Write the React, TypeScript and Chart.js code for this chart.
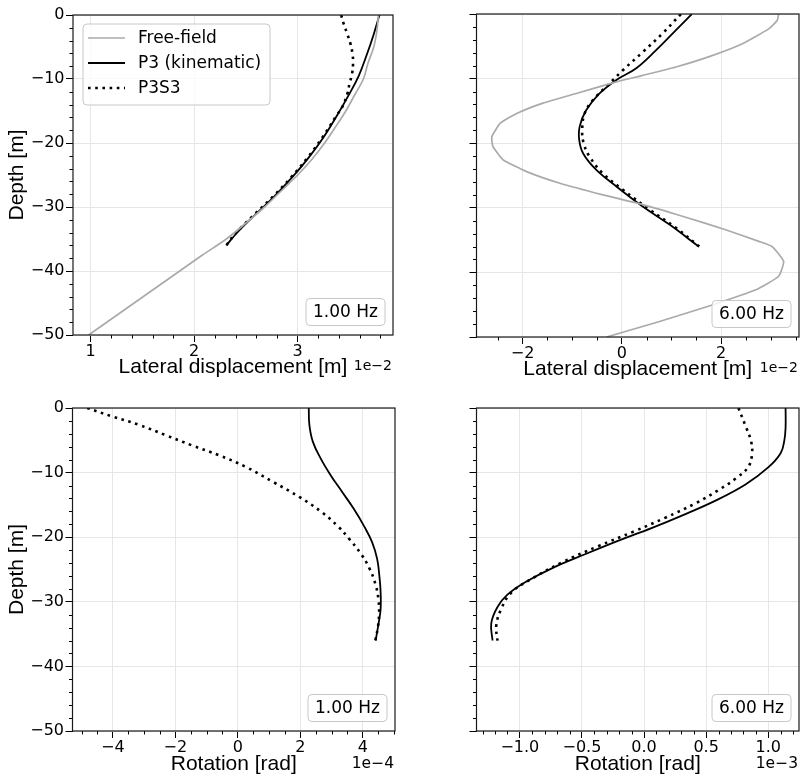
import React, { useEffect, useRef } from 'react';
import { Chart, registerables } from 'chart.js';

Chart.register(...registerables);

// ---------------- data ----------------
const DEPTH_TICKS = [-50, -40, -30, -20, -10, 0];

// 1.00 Hz - lateral displacement (x 1e-2 m)
const ffDisp1Depth = [0, -2.5, -5, -7.5, -10, -12.5, -15, -17.5, -20, -22.5, -25, -27.5, -30, -32.5, -35, -37.5, -40, -42.5, -45, -47.5, -50];
const ffDisp1 = [3.78, 3.765, 3.735, 3.68, 3.635, 3.55, 3.465, 3.365, 3.26, 3.14, 3.0, 2.84, 2.68, 2.5, 2.31, 2.08, 1.86, 1.64, 1.42, 1.2, 0.98];
const p3Disp1Depth = [0, -3, -6.1, -9.5, -12.6, -15.7, -19.1, -22.2, -25.3, -28.4, -31.5, -34.1, -36];
const p3Disp1 = [3.79, 3.735, 3.67, 3.59, 3.49, 3.38, 3.25, 3.11, 2.95, 2.77, 2.57, 2.41, 2.31];
const p3s3Disp1Depth = [0, -1.4, -3, -4.5, -6.1, -7.6, -9.2, -10.8, -12.3, -14.4, -15.7, -19.1, -22.2, -25.3, -28.4, -31.5, -34.1, -36];
const p3s3Disp1 = [3.42, 3.445, 3.48, 3.51, 3.53, 3.535, 3.525, 3.5, 3.48, 3.43, 3.375, 3.24, 3.1, 2.94, 2.76, 2.56, 2.4, 2.31];

// 6.00 Hz - lateral displacement (x 1e-2 m)
const ffDisp6Depth = [0, -1, -2.3, -4.6, -6.6, -8.2, -9.5, -10.5, -12.3, -13.8, -15.4, -16.9, -19, -20.5, -22.6, -24.4, -26.2, -28, -29.5, -31.3, -33.4, -35.2, -36, -38.3, -40.6, -42.7, -45.2, -47.6, -50];
const ffDisp6 = [3.16, 3.13, 2.96, 2.43, 1.76, 1.09, 0.42, -0.11, -0.92, -1.59, -2.12, -2.45, -2.62, -2.6, -2.39, -1.92, -1.25, -0.38, 0.42, 1.22, 2.09, 2.76, 3.03, 3.26, 3.16, 2.7, 1.76, 0.76, -0.31];
const p3Disp6Depth = [0, -2.5, -5.6, -8.4, -10.2, -12.3, -14.9, -17.4, -19.5, -21.6, -24.1, -26.7, -29.8, -32.6, -36];
const p3Disp6 = [1.41, 1.09, 0.69, 0.29, -0.11, -0.45, -0.72, -0.85, -0.86, -0.78, -0.52, -0.11, 0.42, 0.96, 1.55];
const p3s3Disp6Depth = [0, -3, -5.9, -8.7, -11, -13.3, -15.4, -18, -20, -22.1, -24.7, -27.2, -30.3, -33.1, -36];
const p3s3Disp6 = [1.19, 0.82, 0.42, 0.02, -0.28, -0.58, -0.75, -0.8, -0.77, -0.65, -0.38, 0.02, 0.56, 1.09, 1.56];

// 1.00 Hz - rotation (x 1e-4 rad)
const p3Rot1Depth = [0, -2.6, -5.2, -7.8, -10.4, -13, -15.6, -18.2, -20.8, -23.4, -26, -28.5, -31.1, -33.2, -36];
const p3Rot1 = [2.27, 2.29, 2.4, 2.65, 2.97, 3.34, 3.71, 4.03, 4.3, 4.46, 4.53, 4.57, 4.57, 4.51, 4.41];
const p3s3Rot1Depth = [0, -1.3, -2.6, -4.2, -5.8, -7.3, -9.1, -11.5, -13.8, -16.1, -18.3, -20.3, -22.5, -24.8, -27.2, -29.6, -32, -34, -36];
const p3s3Rot1 = [-4.82, -4.02, -3.17, -2.31, -1.46, -0.61, 0.25, 1.15, 1.98, 2.68, 3.2, 3.57, 3.93, 4.21, 4.4, 4.5, 4.52, 4.48, 4.4];

// 6.00 Hz - rotation (x 1e-3 rad)
const p3Rot6Depth = [0, -3, -5, -7, -9.2, -11.8, -14.3, -16.7, -18.6, -20.5, -22.6, -24.7, -26.9, -28.9, -30.8, -33.3, -36];
const p3Rot6 = [1.14, 1.14, 1.13, 1.1, 1.0, 0.82, 0.58, 0.3, 0.06, -0.2, -0.47, -0.73, -0.95, -1.1, -1.18, -1.23, -1.22];
const p3s3Rot6Depth = [0, -2.9, -5, -7, -9.1, -10.9, -12.7, -14.7, -17, -19.1, -21.4, -23.9, -26.5, -28.6, -31.1, -33.7, -36];
const p3s3Rot6 = [0.76, 0.82, 0.86, 0.87, 0.84, 0.74, 0.6, 0.42, 0.17, -0.08, -0.37, -0.66, -0.91, -1.07, -1.15, -1.19, -1.18];

const dispTicks1 = [1, 2, 3];
const dispTicks6 = [-2, 0, 2];
const rotTicks1 = [-4, -2, 0, 2, 4];
const rotTicks6 = [-1, -0.5, 0, 0.5, 1];

const LEGEND_LABELS = ['Free-field', 'P3 (kinematic)', 'P3S3'];

// ---------------- styles ----------------
type Kind = 'ff' | 'p3' | 'p3s3';
const STYLES: Record<Kind, any> = {
  ff: { borderColor: '#aaaaaa', borderWidth: 1.7, tension: 0.35 },
  p3: { borderColor: '#000000', borderWidth: 1.8, tension: 0.4 },
  p3s3: { borderColor: '#000000', borderWidth: 2.6, borderDash: [2.6, 4.6], tension: 0.4 },
};

const TICK_FONT = { family: 'DejaVu Sans', size: 16 };
const TITLE_FONT = { family: 'Liberation Sans', size: 21, lineHeight: 1.2 };

interface Panel {
  key: string;
  left: number; top: number; width: number; height: number;
  plot: { l: number; r: number; t: number; b: number };
  xMin: number; xMax: number; xTicks: number[]; xMinor: number; xMajor: number; xDec: number;
  xTitle: string; titlePadBottom: number;
  yLabels: boolean;
  offset: string; offsetSize: number; offsetBaseline: number;
  freq: string;
  legend: boolean;
  series: { kind: Kind; x: number[]; y: number[]; label: string; tension?: number }[];
}

const PANELS: Panel[] = [
  {
    key: 'tl', left: 0, top: 0, width: 401, height: 390,
    plot: { l: 73, r: 393, t: 15, b: 335 },
    xMin: 0.829, xMax: 3.921, xTicks: dispTicks1, xMinor: 0.2, xMajor: 1, xDec: 0,
    xTitle: 'Lateral displacement [m]', titlePadBottom: 9.7,
    yLabels: true, offset: '1e\u22122', offsetSize: 14, offsetBaseline: 370,
    freq: '1.00 Hz', legend: true,
    series: [
      { kind: 'ff', x: ffDisp1, y: ffDisp1Depth, label: LEGEND_LABELS[0] },
      { kind: 'p3', x: p3Disp1, y: p3Disp1Depth, label: LEGEND_LABELS[1] },
      { kind: 'p3s3', x: p3s3Disp1, y: p3s3Disp1Depth, label: LEGEND_LABELS[2] },
    ],
  },
  {
    key: 'tr', left: 401, top: 0, width: 401, height: 390,
    plot: { l: 75.5, r: 398, t: 14, b: 337 },
    xMin: -2.93, xMax: 3.57, xTicks: dispTicks6, xMinor: 0.5, xMajor: 2, xDec: 0,
    xTitle: 'Lateral displacement [m]', titlePadBottom: 7.7,
    yLabels: false, offset: '1e\u22122', offsetSize: 14, offsetBaseline: 372,
    freq: '6.00 Hz', legend: false,
    series: [
      { kind: 'ff', x: ffDisp6, y: ffDisp6Depth, label: LEGEND_LABELS[0], tension: 0.15 },
      { kind: 'p3', x: p3Disp6, y: p3Disp6Depth, label: LEGEND_LABELS[1] },
      { kind: 'p3s3', x: p3s3Disp6, y: p3s3Disp6Depth, label: LEGEND_LABELS[2] },
    ],
  },
  {
    key: 'bl', left: 0, top: 390, width: 401, height: 390,
    plot: { l: 72.5, r: 395, t: 18, b: 341 },
    xMin: -5.29, xMax: 5.03, xTicks: rotTicks1, xMinor: 0.5, xMajor: 2, xDec: 0,
    xTitle: 'Rotation [rad]', titlePadBottom: 3,
    yLabels: true, offset: '1e\u22124', offsetSize: 15.5, offsetBaseline: 378,
    freq: '1.00 Hz', legend: false,
    series: [
      { kind: 'p3', x: p3Rot1, y: p3Rot1Depth, label: LEGEND_LABELS[1] },
      { kind: 'p3s3', x: p3s3Rot1, y: p3s3Rot1Depth, label: LEGEND_LABELS[2] },
    ],
  },
  {
    key: 'br', left: 401, top: 390, width: 401, height: 390,
    plot: { l: 75.5, r: 398, t: 18, b: 341 },
    xMin: -1.349, xMax: 1.248, xTicks: rotTicks6, xMinor: 0.1, xMajor: 0.5, xDec: 1,
    xTitle: 'Rotation [rad]', titlePadBottom: 3,
    yLabels: false, offset: '1e\u22123', offsetSize: 15.5, offsetBaseline: 378,
    freq: '6.00 Hz', legend: false,
    series: [
      { kind: 'p3', x: p3Rot6, y: p3Rot6Depth, label: LEGEND_LABELS[1] },
      { kind: 'p3s3', x: p3s3Rot6, y: p3s3Rot6Depth, label: LEGEND_LABELS[2] },
    ],
  },
];

function fmt(v: number, d: number): string {
  const s = Math.abs(v) < 1e-9 ? (0).toFixed(d) : v.toFixed(d);
  return s.replace('-', '\u2212');
}

function roundRect(ctx: CanvasRenderingContext2D, x: number, y: number, w: number, h: number, r: number) {
  ctx.beginPath();
  ctx.moveTo(x + r, y);
  ctx.lineTo(x + w - r, y);
  ctx.arcTo(x + w, y, x + w, y + r, r);
  ctx.lineTo(x + w, y + h - r);
  ctx.arcTo(x + w, y + h, x + w - r, y + h, r);
  ctx.lineTo(x + r, y + h);
  ctx.arcTo(x, y + h, x, y + h - r, r);
  ctx.lineTo(x, y + r);
  ctx.arcTo(x, y, x + r, y, r);
  ctx.closePath();
}

function decorPlugin(p: Panel) {
  return {
    id: 'decor_' + p.key,
    afterDraw(chart: any) {
      const ctx: CanvasRenderingContext2D = chart.ctx;
      const a = chart.chartArea;
      const xs = chart.scales.x;
      const ys = chart.scales.y;
      ctx.save();
      // minor ticks
      ctx.strokeStyle = '#000';
      ctx.lineWidth = 1;
      ctx.beginPath();
      for (let k = -25; k <= 0; k++) {
        const v = k * 2;
        if (v % 10 === 0) continue;
        const py = Math.round(ys.getPixelForValue(v)) + 0.5;
        ctx.moveTo(a.left - 3.5, py);
        ctx.lineTo(a.left, py);
      }
      const k0 = Math.ceil(p.xMin / p.xMinor - 1e-9);
      const k1 = Math.floor(p.xMax / p.xMinor + 1e-9);
      for (let k = k0; k <= k1; k++) {
        const v = k * p.xMinor;
        const r = v / p.xMajor;
        if (Math.abs(r - Math.round(r)) < 1e-6) continue;
        const px = Math.round(xs.getPixelForValue(v)) + 0.5;
        ctx.moveTo(px, a.bottom);
        ctx.lineTo(px, a.bottom + 3.5);
      }
      ctx.stroke();

      // spines
      ctx.strokeStyle = '#1a1a1a';
      ctx.lineWidth = 1.2;
      ctx.strokeRect(a.left, a.top, a.right - a.left, a.bottom - a.top);

      // frequency box
      const bw = 79, bh = 27;
      const bx = a.right - 8 - bw, by = a.bottom - 9.5 - bh;
      roundRect(ctx, bx, by, bw, bh, 4);
      ctx.fillStyle = 'rgba(255,255,255,0.8)';
      ctx.fill();
      ctx.strokeStyle = '#c8c8c8';
      ctx.lineWidth = 1;
      ctx.stroke();
      ctx.fillStyle = '#000';
      ctx.font = '17px "DejaVu Sans"';
      ctx.textAlign = 'center';
      ctx.textBaseline = 'middle';
      ctx.fillText(p.freq, bx + bw / 2, by + bh / 2 + 0.5);

      // legend
      if (p.legend) {
        const lx = a.left + 10, ly = a.top + 9, lw = 187, lh = 81;
        roundRect(ctx, lx, ly, lw, lh, 4);
        ctx.fillStyle = 'rgba(255,255,255,0.8)';
        ctx.fill();
        ctx.strokeStyle = '#c8c8c8';
        ctx.lineWidth = 1;
        ctx.stroke();
        p.series.forEach((s, i) => {
          const st = STYLES[s.kind];
          const yy = ly + 14 + i * 25;
          ctx.beginPath();
          ctx.strokeStyle = st.borderColor;
          ctx.lineWidth = st.borderWidth;
          ctx.setLineDash(st.borderDash || []);
          ctx.moveTo(lx + 5, yy);
          ctx.lineTo(lx + 42, yy);
          ctx.stroke();
          ctx.setLineDash([]);
          ctx.fillStyle = '#000';
          ctx.font = '17px "DejaVu Sans"';
          ctx.textAlign = 'left';
          ctx.textBaseline = 'middle';
          ctx.fillText(s.label, lx + 55, yy + 1);
        });
      }

      // offset text
      ctx.fillStyle = '#000';
      ctx.font = p.offsetSize + 'px "DejaVu Sans"';
      ctx.textAlign = 'right';
      ctx.textBaseline = 'alphabetic';
      ctx.fillText(p.offset, a.right - 1, p.offsetBaseline);
      ctx.restore();
    },
  };
}

function PanelChart({ p }: { p: Panel }) {
  const ref = useRef<HTMLCanvasElement | null>(null);
  useEffect(() => {
    if (!ref.current) return;
    const yWidth = p.plot.l;
    const xHeight = p.height - p.plot.b;
    const chart = new Chart(ref.current, {
      type: 'scatter',
      data: {
        datasets: p.series.map((s) => ({
          label: s.label,
          data: s.x.map((v, i) => ({ x: v, y: s.y[i] })),
          showLine: true,
          pointRadius: 0,
          pointHoverRadius: 0,
          borderCapStyle: 'butt',
          fill: false,
          ...STYLES[s.kind],
          ...(s.tension !== undefined ? { tension: s.tension } : {}),
        })),
      },
      options: {
        responsive: false,
        devicePixelRatio: 1,
        animation: false,
        events: [],
        layout: { padding: { left: 0, top: p.plot.t, right: p.width - p.plot.r, bottom: 0 } },
        plugins: { legend: { display: false }, tooltip: { enabled: false }, title: { display: false } },
        scales: {
          x: {
            type: 'linear',
            min: p.xMin,
            max: p.xMax,
            afterBuildTicks: (scale: any) => { scale.ticks = p.xTicks.map((v) => ({ value: v })); },
            afterFit: (scale: any) => { scale.height = xHeight; },
            ticks: {
              autoSkip: false, maxRotation: 0, padding: 0, color: '#000', font: TICK_FONT,
              callback: (v: any) => fmt(Number(v), p.xDec),
            },
            grid: { color: '#e6e6e6', lineWidth: 1, tickColor: '#000', tickWidth: 1, tickLength: 7, drawTicks: true },
            border: { display: false },
            title: { display: true, text: p.xTitle, color: '#000', font: TITLE_FONT, padding: { top: 0, bottom: p.titlePadBottom } },
          },
          y: {
            type: 'linear',
            min: -50,
            max: 0,
            afterBuildTicks: (scale: any) => { scale.ticks = DEPTH_TICKS.map((v) => ({ value: v })); },
            afterFit: (scale: any) => { scale.width = yWidth; },
            ticks: {
              autoSkip: false, padding: 1.5, color: '#000', font: TICK_FONT,
              callback: (v: any) => (p.yLabels ? fmt(Number(v), 0) : ''),
            },
            grid: { color: '#e6e6e6', lineWidth: 1, tickColor: '#000', tickWidth: 1, tickLength: 7, drawTicks: true },
            border: { display: false },
            title: { display: p.yLabels, text: 'Depth [m]', color: '#000', font: TITLE_FONT, padding: { top: 4.5, bottom: 0 } },
          },
        },
      } as any,
      plugins: [decorPlugin(p)],
    });
    return () => chart.destroy();
  }, [p]);
  return (
    <div style={{ position: 'absolute', left: p.left, top: p.top, width: p.width, height: p.height }}>
      <canvas ref={ref} width={p.width} height={p.height} style={{ display: 'block', width: p.width, height: p.height }} />
    </div>
  );
}

export default function App() {
  return (
    <div style={{ position: 'absolute', left: 0, top: 0, width: 802, height: 780, background: '#ffffff', overflow: 'hidden' }}>
      {PANELS.map((p) => (
        <PanelChart key={p.key} p={p} />
      ))}
    </div>
  );
}
